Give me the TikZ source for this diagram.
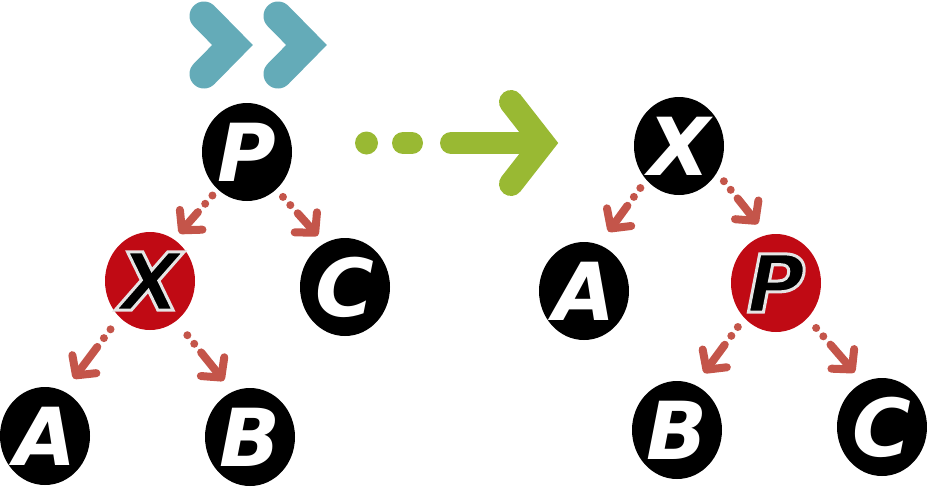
\documentclass[tikz,border=0pt]{standalone}
\usepackage{fontspec}
\newfontfamily\letterfont{DejaVu Sans}
\usetikzlibrary{shapes.geometric,arrows.meta}
\definecolor{tealc}{HTML}{64ABB8}
\definecolor{greenc}{HTML}{99B933}
\definecolor{arrowred}{HTML}{C4554A}
\definecolor{nodered}{HTML}{C00A14}
\newcommand\olet[1]{\special{pdf:literal direct 2 Tr 3 w 0.9 0.9 0.9 RG}#1\special{pdf:literal direct 0 Tr}}
\begin{document}
\begin{tikzpicture}[x=1pt,y=-1pt,
  tnode/.style={ellipse, fill=black, minimum width=90pt, minimum height=98pt, inner sep=0pt,
    text=white, font=\letterfont\bfseries\itshape\fontsize{80}{80}\selectfont},
  rnode/.style={tnode, fill=nodered, text=black},
  redarrow/.style={draw=arrowred, line width=8pt, line cap=round,
    dash pattern=on 0pt off 11pt on 0pt off 11pt on 200pt off 1pt,
    -{Straight Barb[length=14pt,width=30pt,round]}},
  chev/.style={line width=29pt, line cap=round, line join=miter, draw=tealc},
  garrow/.style={draw=greenc, line width=22pt, line cap=round},
]
\useasboundingbox (0,0) rectangle (927,491);

% teal double chevron
\draw[chev] (204,16) -- (232.5,45) -- (204,74);
\draw[chev] (278,16) -- (306.5,45) -- (278,74);

% green arrow
\fill[greenc] (366.5,143) circle (11.5);
\draw[garrow] (403,143) -- (412,143);
\draw[garrow] (451,143) -- (543,143);
\draw[garrow, line width=24pt, line join=miter] (511,102) -- (543,143) -- (511,184);

% left tree
\node[tnode] (P) at (247,152) {P};
\node[rnode] (X) at (150,281) {\olet{X}};
\node[tnode] (C) at (345,287) {C};
\node[tnode] (A) at (45,436) {A};
\node[tnode] (B) at (250,437) {B};

% right tree
\node[tnode] (X2) at (679,146) {X};
\node[tnode] (A2) at (584,291) {A};
\node[rnode] (P2) at (776,283) {\olet{P}};
\node[tnode] (B2) at (677,430) {B};
\node[tnode] (C2) at (882,427) {C};

% arrows
\draw[redarrow, shorten <=8pt, shorten >=8pt] (P.232) -- (X.60);
\draw[redarrow, shorten <=10pt, shorten >=10pt] (P.308) -- (C.115);
\draw[redarrow, shorten <=15pt, shorten >=16pt] (X.230) -- (A.67);
\draw[redarrow, shorten <=18pt, shorten >=14pt] (X.303) -- (B.111);
\draw[redarrow, shorten <=10pt, shorten >=16pt] (X2.226) -- (A2.72);
\draw[redarrow, shorten <=11pt, shorten >=14pt] (X2.325) -- (P2.101);
\draw[redarrow, shorten <=11pt, shorten >=15pt] (P2.228) -- (B2.68);
\draw[redarrow, shorten <=13pt, shorten >=13pt] (P2.312) -- (C2.113);
\end{tikzpicture}
\end{document}
